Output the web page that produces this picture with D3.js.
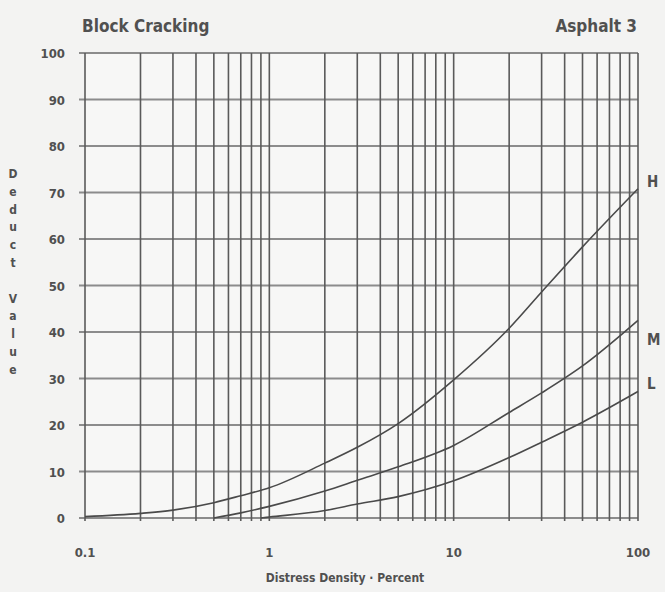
<!DOCTYPE html>
<html><head><meta charset="utf-8">
<script src="https://cdn.jsdelivr.net/npm/d3@7"></script>
<style>
html,body{margin:0;padding:0;background:#f3f3f2;}
svg{display:block;}
text{font-family:"Liberation Sans Narrow","DejaVu Sans Condensed","Liberation Sans",sans-serif;font-weight:bold;fill:#505050;}
</style></head>
<body><svg id="c" width="665" height="592"></svg>
<script>
const title = "Block Cracking";
const subtitle = "Asphalt 3";
const xTitle = "Distress Density  ·  Percent";
const yTitle = "Deduct Value";
const xTickValues = [0.1, 1, 10, 100];
const xTickLabels = ["0.1", "1", "10", "100"];
const yTickValues = [0, 10, 20, 30, 40, 50, 60, 70, 80, 90, 100];
const xGrid = [0.1,0.2,0.3,0.4,0.5,0.6,0.7,0.8,0.9,1,2,3,4,5,6,7,8,9,10,20,30,40,50,60,70,80,90,100];
const seriesNames = ["H", "M", "L"];
const labelLevels = [72.5, 38.5, 29];
const hX = [0.1, 0.2, 0.3, 0.5, 0.7, 1, 2, 3, 5, 10, 20, 30, 50, 100];
const hY = [0.3, 1.0, 1.7, 3.3, 4.8, 6.5, 11.8, 15.2, 20.3, 29.7, 40.8, 48.6, 58.3, 70.8];
const mX = [0.5, 0.7, 1, 2, 3, 5, 10, 20, 30, 50, 100];
const mY = [0, 1.1, 2.5, 5.8, 8.1, 11, 15.6, 22.7, 26.9, 32.7, 42.5];
const lX = [0.9, 1, 2, 3, 5, 10, 20, 30, 50, 100];
const lY = [0, 0.2, 1.6, 3.0, 4.6, 8.0, 13.0, 16.3, 20.6, 27.2];

const svg = d3.select("#c");
const W = 665, H = 592;
const m = {l: 85, r: 27, t: 53, b: 74};
const x = d3.scaleLog().domain([0.1, 100]).range([m.l, W - m.r]);
const y = d3.scaleLinear().domain([0, 100]).range([H - m.b, m.t]);

svg.append("rect").attr("width", W).attr("height", H).attr("fill", "#f3f3f2");
svg.append("rect").attr("x", m.l).attr("y", m.t).attr("width", x(100)-m.l).attr("height", y(0)-m.t).attr("fill", "#f7f7f6");

// horizontal grid (with outer ticks)
svg.append("g").selectAll("line").data(yTickValues).join("line")
  .attr("x1", m.l - 6).attr("x2", x(100))
  .attr("y1", d => y(d)).attr("y2", d => y(d))
  .attr("stroke", "#8c8c8c").attr("stroke-width", 2);

// vertical grid
svg.append("g").selectAll("line").data(xGrid).join("line")
  .attr("x1", d => x(d)).attr("x2", d => x(d))
  .attr("y1", y(100)).attr("y2", y(0) + 3)
  .attr("stroke", "#5a5a5a").attr("stroke-width", 1.6);

// y tick labels
svg.append("g").selectAll("text").data(yTickValues).join("text")
  .attr("x", 65).attr("y", d => y(d) + 5)
  .attr("text-anchor", "end").attr("font-size", 13)
  .text(d => d);

// x tick labels
svg.append("g").selectAll("text").data(xTickValues).join("text")
  .attr("x", d => x(d)).attr("y", 557)
  .attr("text-anchor", "middle").attr("font-size", 13)
  .text((d, i) => xTickLabels[i]);

// curves
const line = d3.line().x(d => x(d[0])).y(d => y(d[1])).curve(d3.curveMonotoneX);
const series = [
  {name: seriesNames[0], xs: hX, ys: hY, lab: labelLevels[0]},
  {name: seriesNames[1], xs: mX, ys: mY, lab: labelLevels[1]},
  {name: seriesNames[2], xs: lX, ys: lY, lab: labelLevels[2]}
];
series.forEach(s => {
  const pts = s.xs.map((v, i) => [v, s.ys[i]]);
  svg.append("path").attr("d", line(pts)).attr("fill", "none")
    .attr("stroke", "#4a4a4a").attr("stroke-width", 1.6);
  svg.append("text").attr("x", x(100) + 9).attr("y", y(s.lab) + 6)
    .attr("font-size", 15).attr("font-weight", "normal").text(s.name);
});

// titles
svg.append("text").attr("x", 82).attr("y", 32).attr("font-size", 17).text(title);
svg.append("text").attr("x", 637).attr("y", 32).attr("text-anchor", "end").attr("font-size", 17).text(subtitle);
svg.append("text").attr("x", 345).attr("y", 582).attr("text-anchor", "middle").attr("font-size", 12).text(xTitle);

// stacked vertical y title
const yChars = yTitle.split("");
svg.append("g").selectAll("text").data(yChars).join("text")
  .attr("x", 13).attr("y", (d, i) => 178 + i * 17.8)
  .attr("text-anchor", "middle").attr("font-size", 12)
  .text(d => d);
</script></body></html>
